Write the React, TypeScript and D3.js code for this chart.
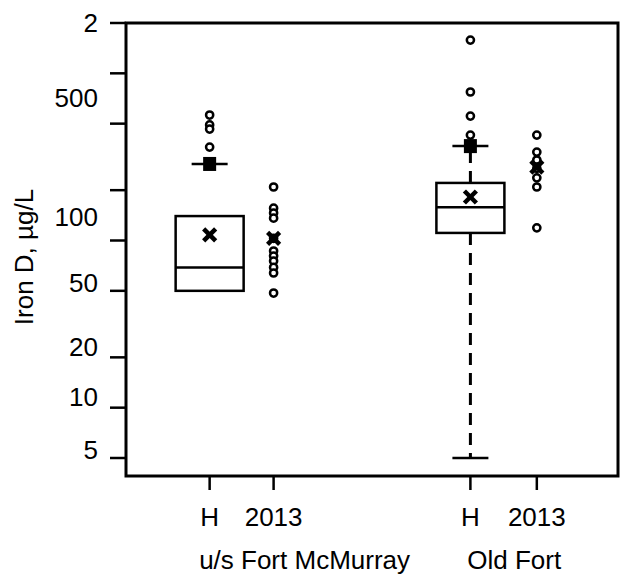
import React from "react";
import * as d3 from "d3";

// y axis (log)
const yTicks = [5, 10, 20, 50, 100, 200, 500, 1000, 2000];
const yTickLabels = ["5", "10", "20", "50", "100", "500", "2"];
// where each label sits on the value axis (the labels are drawn slightly above their ticks)
const yLabelAt = [5.6, 11.6, 23, 55.7, 138, 711, 2000];

// x axis
const xTickLabels = ["H", "2013", "H", "2013"];
const xTickPos = [1.7, 3.0, 7.0, 8.35];
const groups = ["u/s Fort McMurray", "Old Fort"];
const groupPos = [3.63, 7.89];

// historical boxes: q1, median, q3, mean, lower whisker, upper whisker
const boxNames = ["u/s Fort McMurray H", "Old Fort H"];
const boxQ1 = [50, 111];
const boxMedian = [69, 158];
const boxQ3 = [140, 221];
const boxMean = [108, 182];
const boxLow = [50, 5];
const boxHigh = [287, 367];
const boxShowWhisker = [false, true];
const boxOutliers = [
  [563, 491, 464, 362],
  [1581, 773, 555, 427],
];

// 2013 samples
const pts2013 = [
  [209, 156, 146, 136, 103, 86.5, 80.8, 75.4, 69, 63.9, 48.5],
  [427, 338, 303, 270, 237, 209, 119],
];
const mean2013 = [103, 275];

const W = 621;
const H = 577;
const left = 126;
const right = 618;
const top = 23;
const bottom = 476;
const font = "'Liberation Sans', Arial, sans-serif";
const fs = 26;

const Cross = ({ x, y }: { x: number; y: number }) => (
  <g stroke="#000" strokeWidth={4.5} strokeLinecap="butt">
    <line x1={x - 6} y1={y - 6} x2={x + 6} y2={y + 6} />
    <line x1={x - 6} y1={y + 6} x2={x + 6} y2={y - 6} />
  </g>
);

const App: React.FC = () => {
  const y = d3.scaleLog().domain([5, 2000]).range([458, top]);
  const x = d3.scaleLinear().domain([0, 10]).range([left, right]);
  const boxW = 68;
  const capW = 36;

  return (
    <svg
      width={W}
      height={H}
      style={{ position: "absolute", left: 0, top: 0, background: "#fff" }}
      fontFamily={font}
    >
      {/* frame */}
      <rect x={left} y={top} width={right - left} height={bottom - top} fill="none" stroke="#000" strokeWidth={3} />

      {/* y ticks */}
      {yTicks.map((t) => (
        <line key={t} x1={left - 16} x2={left} y1={y(t)} y2={y(t)} stroke="#000" strokeWidth={2.5} />
      ))}
      {yTickLabels.map((l, i) => (
        <text key={l} x={98} y={y(yLabelAt[i])} dy="0.35em" textAnchor="end" fontSize={fs}>
          {l}
        </text>
      ))}
      <text transform={`translate(33, 257) rotate(-90)`} textAnchor="middle" fontSize={fs}>
        Iron D, µg/L
      </text>

      {/* x ticks */}
      {xTickPos.map((p, i) => (
        <g key={i}>
          <line x1={x(p)} x2={x(p)} y1={bottom} y2={bottom + 14} stroke="#000" strokeWidth={2.5} />
          <text x={x(p)} y={526} textAnchor="middle" fontSize={fs}>
            {xTickLabels[i]}
          </text>
        </g>
      ))}
      {groups.map((g, i) => (
        <text key={g} x={x(groupPos[i])} y={569} textAnchor="middle" fontSize={fs}>
          {g}
        </text>
      ))}

      {/* historical boxes */}
      {boxNames.map((n, i) => {
        const cx = x(xTickPos[i * 2]);
        return (
          <g key={n}>
            {boxShowWhisker[i] && (
              <g stroke="#000" strokeWidth={3} strokeDasharray="12,8">
                <line x1={cx} x2={cx} y1={y(boxQ3[i])} y2={y(boxHigh[i])} />
                <line x1={cx} x2={cx} y1={y(boxQ1[i])} y2={y(boxLow[i])} />
              </g>
            )}
            <line x1={cx - capW / 2} x2={cx + capW / 2} y1={y(boxHigh[i])} y2={y(boxHigh[i])} stroke="#000" strokeWidth={2.5} />
            {boxLow[i] < boxQ1[i] && (
              <line x1={cx - capW / 2} x2={cx + capW / 2} y1={y(boxLow[i])} y2={y(boxLow[i])} stroke="#000" strokeWidth={2.5} />
            )}
            <rect x={cx - 6.5} y={y(boxHigh[i]) - 7} width={13} height={14} fill="#000" />
            <rect
              x={cx - boxW / 2}
              y={y(boxQ3[i])}
              width={boxW}
              height={y(boxQ1[i]) - y(boxQ3[i])}
              fill="#fff"
              stroke="#000"
              strokeWidth={2.5}
            />
            <line x1={cx - boxW / 2} x2={cx + boxW / 2} y1={y(boxMedian[i])} y2={y(boxMedian[i])} stroke="#000" strokeWidth={2.5} />
            <Cross x={cx} y={y(boxMean[i])} />
            {boxOutliers[i].map((v, j) => (
              <circle key={j} cx={cx} cy={y(v)} r={3.6} fill="#fff" stroke="#000" strokeWidth={2.5} />
            ))}
          </g>
        );
      })}

      {/* 2013 samples */}
      {pts2013.map((arr, i) => {
        const cx = x(xTickPos[i * 2 + 1]);
        return (
          <g key={i}>
            {arr.map((v, j) => (
              <circle key={j} cx={cx} cy={y(v)} r={3.6} fill="#fff" stroke="#000" strokeWidth={2.5} />
            ))}
            <Cross x={cx} y={y(mean2013[i])} />
          </g>
        );
      })}
    </svg>
  );
};

export default App;
